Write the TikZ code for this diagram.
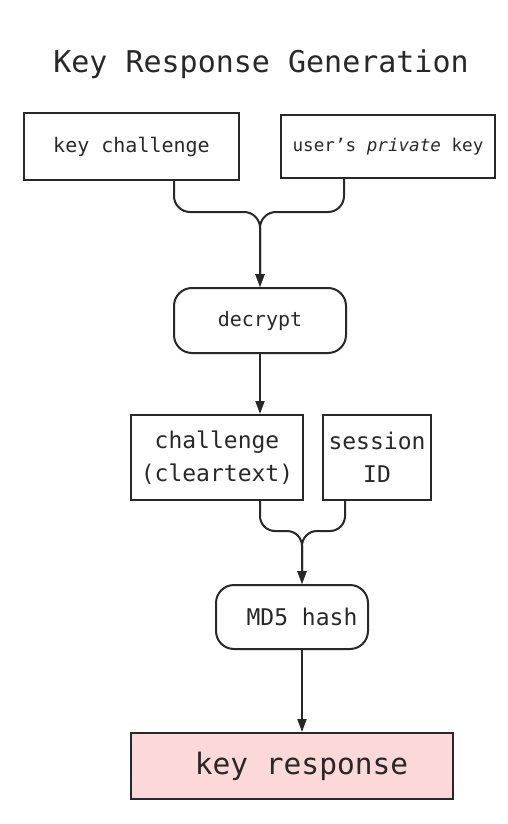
\documentclass[tikz,border=0pt]{standalone}
\usepackage{fontspec}
\setmainfont{DejaVu Sans Mono}
\usepackage{xcolor}
\usepackage{tikz}
\usetikzlibrary{arrows.meta,positioning}
\definecolor{ink}{RGB}{40,40,40}
\definecolor{resppink}{RGB}{252,216,216}

\begin{document}
\begin{tikzpicture}[
  x=1pt, y=-1pt, color=ink,
  box/.style={draw=ink, line width=2pt, inner sep=0pt, align=center},
  op/.style ={box, rounded corners=18pt},
  flow/.style={draw=ink, line width=2pt, rounded corners=16pt},
  >={Triangle[length=13pt, width=9pt]}]
\useasboundingbox (0,0) rectangle (508,824);
\node[anchor=base, font=\fontsize{30}{36}\selectfont] (title) at (261,73) {Key Response Generation};
\node[box, minimum width=215pt, minimum height=67pt, font=\fontsize{20}{24}\selectfont] (chal) at (131.5,146.5) {key challenge};
\node[box, minimum width=214pt, minimum height=62pt, font=\fontsize{17.6}{21}\selectfont, right=40pt of chal] (privkey) {user’s \textit{private} key};
\node[op, minimum width=172pt, minimum height=65pt, font=\fontsize{20}{24}\selectfont] (decrypt) at (260,320.5) {decrypt};
\node[box, minimum width=172pt, minimum height=85pt, font=\fontsize{23}{33}\selectfont] (clear) at (217,457.5) {challenge\\(cleartext)};
\node[box, minimum width=108pt, minimum height=85pt, font=\fontsize{23}{33}\selectfont, right=18pt of clear] (sess) {session\\ID};
\node[op, minimum width=152pt, minimum height=64pt, font=\fontsize{23}{28}\selectfont] (hash) at (292,617) {\hspace*{20pt}MD5 hash};
\node[box, fill=resppink, minimum width=322pt, minimum height=66pt, font=\fontsize{29.5}{35}\selectfont] (resp) at (292,766) {\hspace*{19pt}key response};
\coordinate (join1) at (260,212);
\coordinate (join2) at (302,531);
\draw[flow, ->] ([xshift=42.5pt]chal.south) |- (join1) -- (decrypt.north);
\draw[flow, ->] ([xshift=-44pt]privkey.south) |- (join1) -- (decrypt.north);
\draw[flow, ->] (decrypt.south) -- (decrypt.south |- clear.north);
\draw[flow, rounded corners=15pt, ->] ([xshift=43pt]clear.south) |- (join2) -- (join2 |- hash.north);
\draw[flow, rounded corners=15pt, ->] ([xshift=-32pt]sess.south) |- (join2) -- (join2 |- hash.north);
\draw[flow, ->] (hash.south -| join2) -- (resp.north -| join2);
\end{tikzpicture}
\end{document}
